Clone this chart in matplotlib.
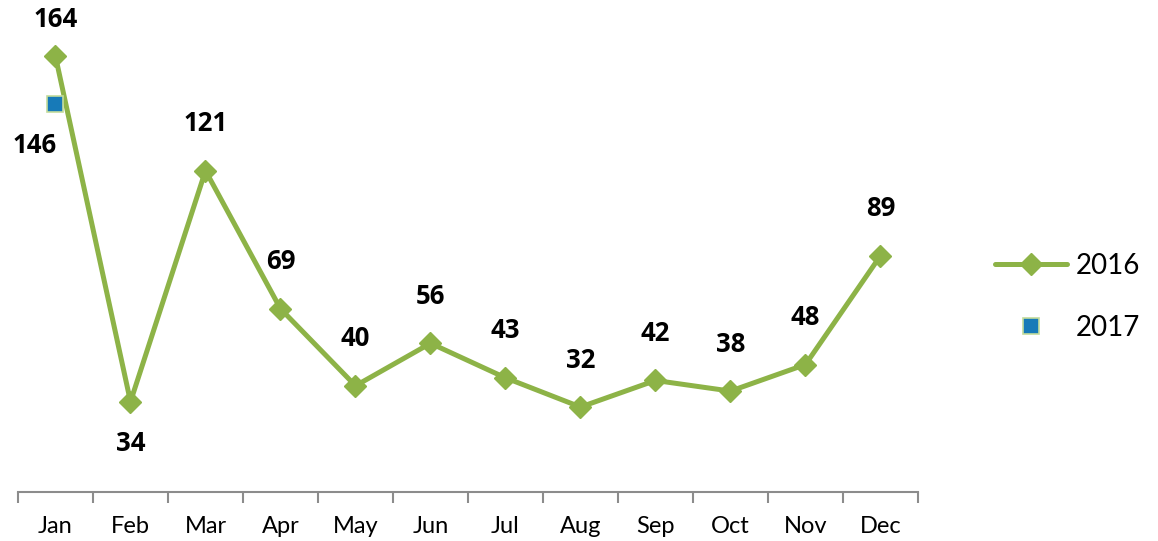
import matplotlib.pyplot as plt

months = ['Jan', 'Feb', 'Mar', 'Apr', 'May', 'Jun', 'Jul', 'Aug', 'Sep', 'Oct', 'Nov', 'Dec']
v2016 = [164, 34, 121, 69, 40, 56, 43, 32, 42, 38, 48, 89]
v2017 = [146]

green = '#8db347'
blue = '#177ab8'

plt.rcParams['font.family'] = ['Lato', 'DejaVu Sans']

fig = plt.figure(figsize=(11.58, 5.41), dpi=100)
ax = fig.add_axes([18 / 1158, 49 / 541, 900 / 1158, 478 / 541])

x = list(range(len(months)))
ax.plot(x, v2016, color=green, lw=3.6, marker='D', markersize=11,
        solid_capstyle='round', label='2016')
ax.plot(x[:len(v2017)], v2017, ls='none', marker='s', markersize=12,
        color=blue, markeredgecolor='#c3dc9c', markeredgewidth=1.2, label='2017')

# data labels
lab_font = dict(fontsize=18.5, fontweight='bold', family=['Open Sans', 'DejaVu Sans'])
for i, v in enumerate(v2016):
    if i == 1:
        off = (0, -42)
    elif i == 0:
        off = (0, 37)
    else:
        off = (0, 47)
    ax.annotate(str(v), (i, v), xytext=off, textcoords='offset pixels',
                ha='center', va='center', **lab_font)
for i, v in enumerate(v2017):
    ax.annotate(str(v), (i, v), xytext=(-21, -41), textcoords='offset pixels',
                ha='center', va='center', **lab_font)

ax.set_xlim(-0.5, len(months) - 0.5)
ax.set_ylim(0, 180)
ax.set_yticks([])
for s in ['top', 'right', 'left']:
    ax.spines[s].set_visible(False)
ax.spines['bottom'].set_color('#8c8c8c')
ax.spines['bottom'].set_linewidth(1.5)

ax.set_xticks([i - 0.5 for i in range(len(months) + 1)])
ax.set_xticklabels([])
ax.tick_params(axis='x', length=8, width=1.5, color='#8c8c8c')
ax.set_xticks(x, minor=True)
ax.set_xticklabels(months, minor=True, fontsize=17)
ax.tick_params(axis='x', which='minor', length=0, pad=17)

leg = fig.legend(loc='center left', bbox_to_anchor=(970 / 1158, 1 - 297 / 541),
                 frameon=False, fontsize=20, handlelength=2.6, labelspacing=1.3,
                 handletextpad=0.3)

fig.savefig('out.png', dpi=100)
